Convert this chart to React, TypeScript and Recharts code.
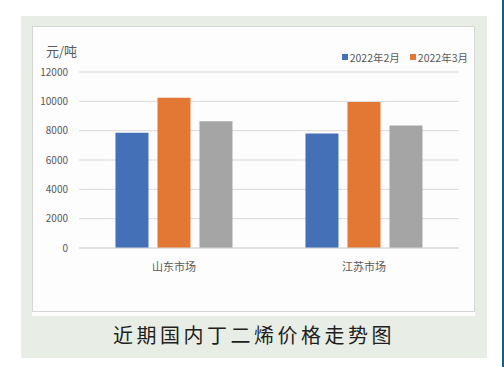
import { BarChart, Bar, XAxis, YAxis, CartesianGrid, Legend } from "recharts";

const markets = ["山东市场", "江苏市场"];
const feb2022 = [7850, 7800];
const mar2022 = [10250, 9950];
const third = [8650, 8350];
const yTicks = [0, 2000, 4000, 6000, 8000, 10000, 12000];

const data = markets.map((name, i) => ({
  name,
  feb: feb2022[i],
  mar: mar2022[i],
  third: third[i],
}));

const FONT = '"Noto Sans CJK SC", "Noto Sans", sans-serif';

// legend: only the two named series, small square + label
const renderLegend = (props: any) => {
  const items = (props.payload || []).filter((p: any) => p.type !== "none");
  return (
    <div style={{ display: "flex", height: 14, fontFamily: FONT, fontSize: 10.5, color: "#595959" }}>
      {items.map((p: any) => (
        <div key={p.value} style={{ display: "flex", alignItems: "center", marginLeft: 10 }}>
          <span style={{ width: 6, height: 6, background: p.color, marginRight: 2 }} />
          <span>{p.value}</span>
        </div>
      ))}
    </div>
  );
};

export default function App() {
  return (
    <div style={{ position: "absolute", left: 0, top: 0, width: 504, height: 367, background: "#fff" }}>
      {/* blue rule at the right edge */}
      <div style={{ position: "absolute", left: 502, top: 0, width: 2, height: 367, background: "#0b5f8e" }} />
      {/* green-grey panel */}
      <div style={{ position: "absolute", left: 21, top: 16, width: 466, height: 342, background: "#e8ede6" }} />
      <div style={{ position: "absolute", left: 32, top: 26, width: 443, height: 290, background: "#ffffff" }} />
      <div
        style={{
          position: "absolute",
          left: 32,
          top: 26,
          width: 441,
          height: 284,
          background: "#fdfdfd",
          border: "1px solid #d6d6d6",
        }}
      >
        <div style={{ position: "absolute", left: 13, top: 14, fontFamily: FONT, fontSize: 13, color: "#595959" }}>
          元/吨
        </div>
        {/* legend height (14) gets added on top of margin.top */}
        <BarChart
          width={441}
          height={284}
          data={data}
          margin={{ top: 31, right: 15, left: 6, bottom: 33 }}
          barCategoryGap="19.2%"
          barGap={9}
        >
          <CartesianGrid vertical={false} stroke="#d9d9d9" />
          <XAxis
            dataKey="name"
            axisLine={{ stroke: "#d9d9d9" }}
            tickLine={false}
            height={30}
            tickMargin={9}
            tick={{ fontSize: 11, fill: "#595959", fontFamily: FONT }}
          />
          <YAxis
            width={40}
            domain={[0, 12000]}
            ticks={yTicks}
            axisLine={false}
            tickLine={false}
            tickSize={0}
            tickMargin={11}
            tick={{ fontSize: 10, fill: "#595959", fontFamily: FONT }}
          />
          <Legend
            verticalAlign="top"
            align="right"
            content={renderLegend}
            wrapperStyle={{ top: 23, right: 6, left: "auto", width: "auto" }}
          />
          <Bar dataKey="feb" name="2022年2月" fill="#4470b8" isAnimationActive={false} />
          <Bar dataKey="mar" name="2022年3月" fill="#e27834" isAnimationActive={false} />
          <Bar dataKey="third" name="" fill="#a6a5a5" legendType="none" isAnimationActive={false} />
        </BarChart>
      </div>
      <div
        style={{
          position: "absolute",
          left: 21,
          width: 466,
          top: 320,
          textAlign: "center",
          fontFamily: FONT,
          fontSize: 20,
          letterSpacing: 3.5,
          color: "#231f20",
        }}
      >
        近期国内丁二烯价格走势图
      </div>
    </div>
  );
}
